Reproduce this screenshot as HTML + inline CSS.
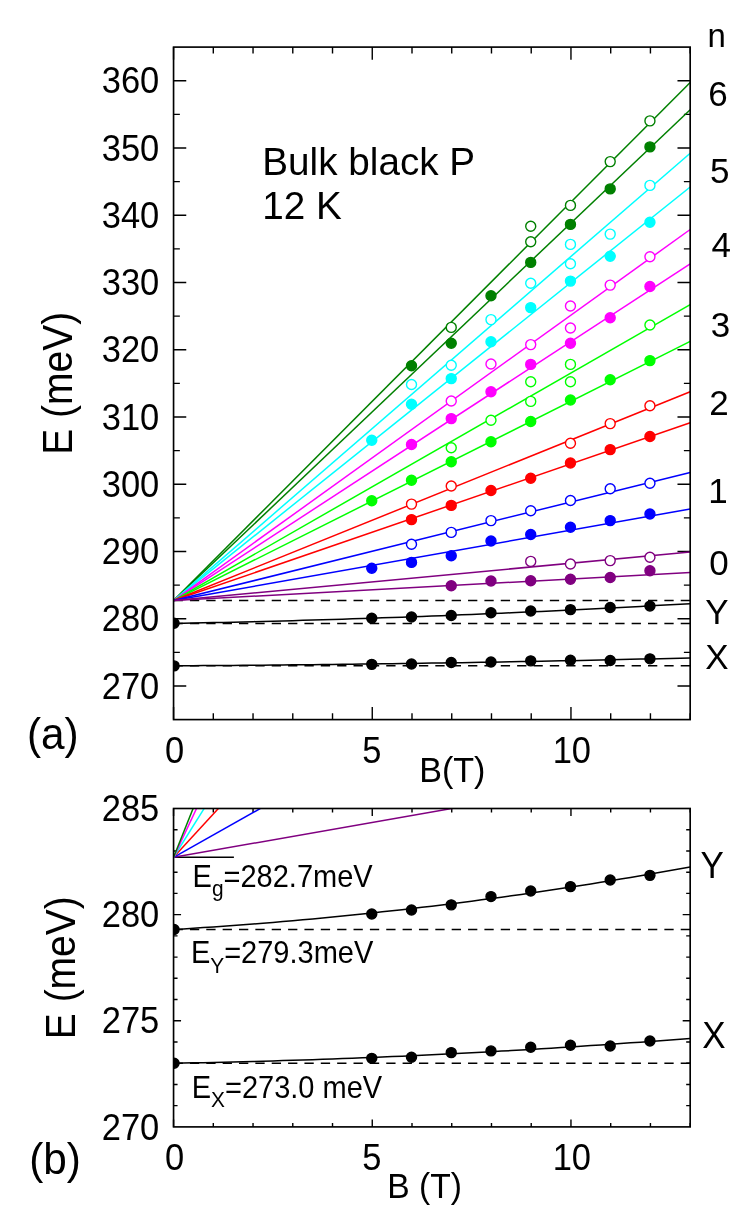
<!DOCTYPE html>
<html><head><meta charset="utf-8"><title>Bulk black P magneto-absorption</title>
<style>html,body{margin:0;padding:0;background:#fff;}svg{display:block;will-change:transform;}text{font-family:"Liberation Sans",sans-serif;fill:#000;}</style>
</head><body>
<svg width="747" height="1222" viewBox="0 0 747 1222">
<rect x="0" y="0" width="747" height="1222" fill="#ffffff"/>
<defs>
<clipPath id="ca"><rect x="173.56" y="47.1" width="516.62" height="672.5"/></clipPath>
<clipPath id="cb"><rect x="173.56" y="808.5" width="516.62" height="318.4"/></clipPath>
</defs>
<path d="M173.56 719.6 v-12.7 M173.56 47.1 v12.7 M213.3 719.6 v-6.3 M213.3 47.1 v6.3 M253.04 719.6 v-6.3 M253.04 47.1 v6.3 M292.78 719.6 v-6.3 M292.78 47.1 v6.3 M332.52 719.6 v-6.3 M332.52 47.1 v6.3 M372.26 719.6 v-12.7 M372.26 47.1 v12.7 M412 719.6 v-6.3 M412 47.1 v6.3 M451.74 719.6 v-6.3 M451.74 47.1 v6.3 M491.48 719.6 v-6.3 M491.48 47.1 v6.3 M531.22 719.6 v-6.3 M531.22 47.1 v6.3 M570.96 719.6 v-12.7 M570.96 47.1 v12.7 M610.7 719.6 v-6.3 M610.7 47.1 v6.3 M650.44 719.6 v-6.3 M650.44 47.1 v6.3 M690.18 719.6 v-6.3 M690.18 47.1 v6.3 M173.56 685.98 h12.7 M690.18 685.98 h-12.7 M173.56 652.35 h6.3 M690.18 652.35 h-6.3 M173.56 618.73 h12.7 M690.18 618.73 h-12.7 M173.56 585.1 h6.3 M690.18 585.1 h-6.3 M173.56 551.48 h12.7 M690.18 551.48 h-12.7 M173.56 517.85 h6.3 M690.18 517.85 h-6.3 M173.56 484.23 h12.7 M690.18 484.23 h-12.7 M173.56 450.6 h6.3 M690.18 450.6 h-6.3 M173.56 416.98 h12.7 M690.18 416.98 h-12.7 M173.56 383.35 h6.3 M690.18 383.35 h-6.3 M173.56 349.73 h12.7 M690.18 349.73 h-12.7 M173.56 316.1 h6.3 M690.18 316.1 h-6.3 M173.56 282.48 h12.7 M690.18 282.48 h-12.7 M173.56 248.85 h6.3 M690.18 248.85 h-6.3 M173.56 215.23 h12.7 M690.18 215.23 h-12.7 M173.56 181.6 h6.3 M690.18 181.6 h-6.3 M173.56 147.98 h12.7 M690.18 147.98 h-12.7 M173.56 114.35 h6.3 M690.18 114.35 h-6.3 M173.56 80.73 h12.7 M690.18 80.73 h-12.7" fill="none" stroke="#000" stroke-width="1.4"/>
<g clip-path="url(#ca)">
<line x1="173.56" y1="600.57" x2="690.18" y2="600.57" stroke="#000" stroke-width="1.5" stroke-dasharray="9.3 7.06"/>
<line x1="173.56" y1="623.43" x2="690.18" y2="623.43" stroke="#000" stroke-width="1.5" stroke-dasharray="9.3 7.06"/>
<line x1="173.56" y1="665.8" x2="690.18" y2="665.8" stroke="#000" stroke-width="1.5" stroke-dasharray="9.3 7.06"/>
<line x1="173.56" y1="600.57" x2="690.18" y2="82.5" stroke="#008000" stroke-width="1.5"/>
<line x1="173.56" y1="600.57" x2="690.18" y2="109.75" stroke="#008000" stroke-width="1.5"/>
<line x1="173.56" y1="600.57" x2="690.18" y2="153.2" stroke="#00ffff" stroke-width="1.5"/>
<line x1="173.56" y1="600.57" x2="690.18" y2="187" stroke="#00ffff" stroke-width="1.5"/>
<line x1="173.56" y1="600.57" x2="690.18" y2="229.5" stroke="#ff00ff" stroke-width="1.5"/>
<line x1="173.56" y1="600.57" x2="690.18" y2="263.8" stroke="#ff00ff" stroke-width="1.5"/>
<line x1="173.56" y1="600.57" x2="690.18" y2="304.7" stroke="#00ff00" stroke-width="1.5"/>
<line x1="173.56" y1="600.57" x2="690.18" y2="341.4" stroke="#00ff00" stroke-width="1.5"/>
<line x1="173.56" y1="600.57" x2="690.18" y2="391.7" stroke="#ff0000" stroke-width="1.5"/>
<line x1="173.56" y1="600.57" x2="690.18" y2="422.8" stroke="#ff0000" stroke-width="1.5"/>
<line x1="173.56" y1="600.57" x2="690.18" y2="472.4" stroke="#0000ff" stroke-width="1.5"/>
<line x1="173.56" y1="600.57" x2="690.18" y2="509" stroke="#0000ff" stroke-width="1.5"/>
<line x1="173.56" y1="600.57" x2="690.18" y2="552" stroke="#800080" stroke-width="1.5"/>
<line x1="173.56" y1="600.57" x2="690.18" y2="572.5" stroke="#800080" stroke-width="1.5"/>
<path d="M173.56 623.43 L183.5 623.24 L193.43 623.04 L203.37 622.83 L213.3 622.62 L223.24 622.4 L233.17 622.17 L243.11 621.93 L253.04 621.69 L262.98 621.44 L272.91 621.18 L282.85 620.91 L292.78 620.64 L302.72 620.36 L312.65 620.07 L322.59 619.78 L332.52 619.47 L342.46 619.16 L352.39 618.84 L362.33 618.52 L372.26 618.19 L382.2 617.85 L392.13 617.5 L402.07 617.14 L412 616.78 L421.94 616.41 L431.87 616.04 L441.81 615.65 L451.74 615.26 L461.68 614.86 L471.61 614.45 L481.55 614.04 L491.48 613.62 L501.42 613.19 L511.35 612.75 L521.29 612.31 L531.22 611.86 L541.15 611.4 L551.09 610.94 L561.03 610.46 L570.96 609.98 L580.89 609.49 L590.83 609 L600.77 608.5 L610.7 607.99 L620.63 607.47 L630.57 606.94 L640.51 606.41 L650.44 605.87 L660.38 605.33 L670.31 604.77 L680.25 604.21 L690.18 603.64" fill="none" stroke="#000" stroke-width="1.5"/>
<path d="M173.56 665.8 L183.5 665.74 L193.43 665.68 L203.37 665.62 L213.3 665.55 L223.24 665.48 L233.17 665.4 L243.11 665.32 L253.04 665.24 L262.98 665.16 L272.91 665.06 L282.85 664.97 L292.78 664.87 L302.72 664.77 L312.65 664.67 L322.59 664.56 L332.52 664.45 L342.46 664.33 L352.39 664.21 L362.33 664.09 L372.26 663.96 L382.2 663.83 L392.13 663.69 L402.07 663.55 L412 663.41 L421.94 663.27 L431.87 663.12 L441.81 662.96 L451.74 662.81 L461.68 662.65 L471.61 662.48 L481.55 662.31 L491.48 662.14 L501.42 661.97 L511.35 661.79 L521.29 661.61 L531.22 661.42 L541.15 661.23 L551.09 661.03 L561.03 660.84 L570.96 660.64 L580.89 660.43 L590.83 660.22 L600.77 660.01 L610.7 659.79 L620.63 659.57 L630.57 659.35 L640.51 659.12 L650.44 658.89 L660.38 658.66 L670.31 658.42 L680.25 658.18 L690.18 657.93" fill="none" stroke="#000" stroke-width="1.5"/>
<circle cx="371.76" cy="440.2" r="5" fill="#00ffff" stroke="#00ffff" stroke-width="1.4"/>
<circle cx="371.76" cy="500.7" r="5" fill="#00ff00" stroke="#00ff00" stroke-width="1.4"/>
<circle cx="371.76" cy="568.2" r="5" fill="#0000ff" stroke="#0000ff" stroke-width="1.4"/>
<circle cx="411.5" cy="365.7" r="5" fill="#008000" stroke="#008000" stroke-width="1.4"/>
<circle cx="411.5" cy="384.5" r="5" fill="#ffffff" stroke="#00ffff" stroke-width="1.4"/>
<circle cx="411.5" cy="404.3" r="5" fill="#00ffff" stroke="#00ffff" stroke-width="1.4"/>
<circle cx="411.5" cy="444.5" r="5" fill="#ff00ff" stroke="#ff00ff" stroke-width="1.4"/>
<circle cx="411.5" cy="480.3" r="5" fill="#00ff00" stroke="#00ff00" stroke-width="1.4"/>
<circle cx="411.5" cy="504.1" r="5" fill="#ffffff" stroke="#ff0000" stroke-width="1.4"/>
<circle cx="411.5" cy="519.6" r="5" fill="#ff0000" stroke="#ff0000" stroke-width="1.4"/>
<circle cx="411.5" cy="544.2" r="5" fill="#ffffff" stroke="#0000ff" stroke-width="1.4"/>
<circle cx="411.5" cy="562.4" r="5" fill="#0000ff" stroke="#0000ff" stroke-width="1.4"/>
<circle cx="451.24" cy="327.4" r="5" fill="#ffffff" stroke="#008000" stroke-width="1.4"/>
<circle cx="451.24" cy="343.2" r="5" fill="#008000" stroke="#008000" stroke-width="1.4"/>
<circle cx="451.24" cy="365.3" r="5" fill="#ffffff" stroke="#00ffff" stroke-width="1.4"/>
<circle cx="451.24" cy="378.6" r="5" fill="#00ffff" stroke="#00ffff" stroke-width="1.4"/>
<circle cx="451.24" cy="401" r="5" fill="#ffffff" stroke="#ff00ff" stroke-width="1.4"/>
<circle cx="451.24" cy="418.6" r="5" fill="#ff00ff" stroke="#ff00ff" stroke-width="1.4"/>
<circle cx="451.24" cy="447.7" r="5" fill="#ffffff" stroke="#00ff00" stroke-width="1.4"/>
<circle cx="451.24" cy="461.7" r="5" fill="#00ff00" stroke="#00ff00" stroke-width="1.4"/>
<circle cx="451.24" cy="486" r="5" fill="#ffffff" stroke="#ff0000" stroke-width="1.4"/>
<circle cx="451.24" cy="505.4" r="5" fill="#ff0000" stroke="#ff0000" stroke-width="1.4"/>
<circle cx="451.24" cy="532.4" r="5" fill="#ffffff" stroke="#0000ff" stroke-width="1.4"/>
<circle cx="451.24" cy="555.8" r="5" fill="#0000ff" stroke="#0000ff" stroke-width="1.4"/>
<circle cx="451.24" cy="585.7" r="5" fill="#800080" stroke="#800080" stroke-width="1.4"/>
<circle cx="490.98" cy="295.7" r="5" fill="#008000" stroke="#008000" stroke-width="1.4"/>
<circle cx="490.98" cy="319.6" r="5" fill="#ffffff" stroke="#00ffff" stroke-width="1.4"/>
<circle cx="490.98" cy="341.7" r="5" fill="#00ffff" stroke="#00ffff" stroke-width="1.4"/>
<circle cx="490.98" cy="364" r="5" fill="#ffffff" stroke="#ff00ff" stroke-width="1.4"/>
<circle cx="490.98" cy="391.8" r="5" fill="#ff00ff" stroke="#ff00ff" stroke-width="1.4"/>
<circle cx="490.98" cy="420.3" r="5" fill="#ffffff" stroke="#00ff00" stroke-width="1.4"/>
<circle cx="490.98" cy="441.7" r="5" fill="#00ff00" stroke="#00ff00" stroke-width="1.4"/>
<circle cx="490.98" cy="490.5" r="5" fill="#ff0000" stroke="#ff0000" stroke-width="1.4"/>
<circle cx="490.98" cy="520.6" r="5" fill="#ffffff" stroke="#0000ff" stroke-width="1.4"/>
<circle cx="490.98" cy="541" r="5" fill="#0000ff" stroke="#0000ff" stroke-width="1.4"/>
<circle cx="490.98" cy="581" r="5" fill="#800080" stroke="#800080" stroke-width="1.4"/>
<circle cx="530.72" cy="226.2" r="5" fill="#ffffff" stroke="#008000" stroke-width="1.4"/>
<circle cx="530.72" cy="241.8" r="5" fill="#ffffff" stroke="#008000" stroke-width="1.4"/>
<circle cx="530.72" cy="262.4" r="5" fill="#008000" stroke="#008000" stroke-width="1.4"/>
<circle cx="530.72" cy="283.3" r="5" fill="#ffffff" stroke="#00ffff" stroke-width="1.4"/>
<circle cx="530.72" cy="307.6" r="5" fill="#00ffff" stroke="#00ffff" stroke-width="1.4"/>
<circle cx="530.72" cy="344.6" r="5" fill="#ffffff" stroke="#ff00ff" stroke-width="1.4"/>
<circle cx="530.72" cy="364.4" r="5" fill="#ff00ff" stroke="#ff00ff" stroke-width="1.4"/>
<circle cx="530.72" cy="381.7" r="5" fill="#ffffff" stroke="#00ff00" stroke-width="1.4"/>
<circle cx="530.72" cy="401.4" r="5" fill="#ffffff" stroke="#00ff00" stroke-width="1.4"/>
<circle cx="530.72" cy="421.5" r="5" fill="#00ff00" stroke="#00ff00" stroke-width="1.4"/>
<circle cx="530.72" cy="478.3" r="5" fill="#ff0000" stroke="#ff0000" stroke-width="1.4"/>
<circle cx="530.72" cy="510.7" r="5" fill="#ffffff" stroke="#0000ff" stroke-width="1.4"/>
<circle cx="530.72" cy="534.5" r="5" fill="#0000ff" stroke="#0000ff" stroke-width="1.4"/>
<circle cx="530.72" cy="561.4" r="5" fill="#ffffff" stroke="#800080" stroke-width="1.4"/>
<circle cx="530.72" cy="580.8" r="5" fill="#800080" stroke="#800080" stroke-width="1.4"/>
<circle cx="570.46" cy="205.4" r="5" fill="#ffffff" stroke="#008000" stroke-width="1.4"/>
<circle cx="570.46" cy="224.4" r="5" fill="#008000" stroke="#008000" stroke-width="1.4"/>
<circle cx="570.46" cy="244.4" r="5" fill="#ffffff" stroke="#00ffff" stroke-width="1.4"/>
<circle cx="570.46" cy="263.7" r="5" fill="#ffffff" stroke="#00ffff" stroke-width="1.4"/>
<circle cx="570.46" cy="281.1" r="5" fill="#00ffff" stroke="#00ffff" stroke-width="1.4"/>
<circle cx="570.46" cy="306" r="5" fill="#ffffff" stroke="#ff00ff" stroke-width="1.4"/>
<circle cx="570.46" cy="328" r="5" fill="#ffffff" stroke="#ff00ff" stroke-width="1.4"/>
<circle cx="570.46" cy="343.2" r="5" fill="#ff00ff" stroke="#ff00ff" stroke-width="1.4"/>
<circle cx="570.46" cy="364.4" r="5" fill="#ffffff" stroke="#00ff00" stroke-width="1.4"/>
<circle cx="570.46" cy="381.8" r="5" fill="#ffffff" stroke="#00ff00" stroke-width="1.4"/>
<circle cx="570.46" cy="400" r="5" fill="#00ff00" stroke="#00ff00" stroke-width="1.4"/>
<circle cx="570.46" cy="443.2" r="5" fill="#ffffff" stroke="#ff0000" stroke-width="1.4"/>
<circle cx="570.46" cy="463" r="5" fill="#ff0000" stroke="#ff0000" stroke-width="1.4"/>
<circle cx="570.46" cy="500.5" r="5" fill="#ffffff" stroke="#0000ff" stroke-width="1.4"/>
<circle cx="570.46" cy="527.3" r="5" fill="#0000ff" stroke="#0000ff" stroke-width="1.4"/>
<circle cx="570.46" cy="564" r="5" fill="#ffffff" stroke="#800080" stroke-width="1.4"/>
<circle cx="570.46" cy="579.3" r="5" fill="#800080" stroke="#800080" stroke-width="1.4"/>
<circle cx="610.2" cy="161.6" r="5" fill="#ffffff" stroke="#008000" stroke-width="1.4"/>
<circle cx="610.2" cy="188.9" r="5" fill="#008000" stroke="#008000" stroke-width="1.4"/>
<circle cx="610.2" cy="234.1" r="5" fill="#ffffff" stroke="#00ffff" stroke-width="1.4"/>
<circle cx="610.2" cy="256.2" r="5" fill="#00ffff" stroke="#00ffff" stroke-width="1.4"/>
<circle cx="610.2" cy="285.1" r="5" fill="#ffffff" stroke="#ff00ff" stroke-width="1.4"/>
<circle cx="610.2" cy="317.8" r="5" fill="#ff00ff" stroke="#ff00ff" stroke-width="1.4"/>
<circle cx="610.2" cy="379.8" r="5" fill="#00ff00" stroke="#00ff00" stroke-width="1.4"/>
<circle cx="610.2" cy="423.6" r="5" fill="#ffffff" stroke="#ff0000" stroke-width="1.4"/>
<circle cx="610.2" cy="449.6" r="5" fill="#ff0000" stroke="#ff0000" stroke-width="1.4"/>
<circle cx="610.2" cy="488.7" r="5" fill="#ffffff" stroke="#0000ff" stroke-width="1.4"/>
<circle cx="610.2" cy="520.6" r="5" fill="#0000ff" stroke="#0000ff" stroke-width="1.4"/>
<circle cx="610.2" cy="560.6" r="5" fill="#ffffff" stroke="#800080" stroke-width="1.4"/>
<circle cx="610.2" cy="577.5" r="5" fill="#800080" stroke="#800080" stroke-width="1.4"/>
<circle cx="649.94" cy="120.9" r="5" fill="#ffffff" stroke="#008000" stroke-width="1.4"/>
<circle cx="649.94" cy="146.9" r="5" fill="#008000" stroke="#008000" stroke-width="1.4"/>
<circle cx="649.94" cy="185.4" r="5" fill="#ffffff" stroke="#00ffff" stroke-width="1.4"/>
<circle cx="649.94" cy="222.2" r="5" fill="#00ffff" stroke="#00ffff" stroke-width="1.4"/>
<circle cx="649.94" cy="256.8" r="5" fill="#ffffff" stroke="#ff00ff" stroke-width="1.4"/>
<circle cx="649.94" cy="286.5" r="5" fill="#ff00ff" stroke="#ff00ff" stroke-width="1.4"/>
<circle cx="649.94" cy="325" r="5" fill="#ffffff" stroke="#00ff00" stroke-width="1.4"/>
<circle cx="649.94" cy="360.6" r="5" fill="#00ff00" stroke="#00ff00" stroke-width="1.4"/>
<circle cx="649.94" cy="405.7" r="5" fill="#ffffff" stroke="#ff0000" stroke-width="1.4"/>
<circle cx="649.94" cy="436.5" r="5" fill="#ff0000" stroke="#ff0000" stroke-width="1.4"/>
<circle cx="649.94" cy="483.3" r="5" fill="#ffffff" stroke="#0000ff" stroke-width="1.4"/>
<circle cx="649.94" cy="514" r="5" fill="#0000ff" stroke="#0000ff" stroke-width="1.4"/>
<circle cx="649.94" cy="557.2" r="5" fill="#ffffff" stroke="#800080" stroke-width="1.4"/>
<circle cx="649.94" cy="570.8" r="5" fill="#800080" stroke="#800080" stroke-width="1.4"/>
<circle cx="174.06" cy="623.23" r="5" fill="#000000" stroke="#000000" stroke-width="1.4"/>
<circle cx="371.76" cy="618.32" r="5" fill="#000000" stroke="#000000" stroke-width="1.4"/>
<circle cx="411.5" cy="617.05" r="5" fill="#000000" stroke="#000000" stroke-width="1.4"/>
<circle cx="451.24" cy="615.43" r="5" fill="#000000" stroke="#000000" stroke-width="1.4"/>
<circle cx="490.98" cy="612.81" r="5" fill="#000000" stroke="#000000" stroke-width="1.4"/>
<circle cx="530.72" cy="611.06" r="5" fill="#000000" stroke="#000000" stroke-width="1.4"/>
<circle cx="570.46" cy="609.65" r="5" fill="#000000" stroke="#000000" stroke-width="1.4"/>
<circle cx="610.2" cy="607.56" r="5" fill="#000000" stroke="#000000" stroke-width="1.4"/>
<circle cx="649.94" cy="606.08" r="5" fill="#000000" stroke="#000000" stroke-width="1.4"/>
<circle cx="174.06" cy="665.9" r="5" fill="#000000" stroke="#000000" stroke-width="1.4"/>
<circle cx="371.76" cy="664.35" r="5" fill="#000000" stroke="#000000" stroke-width="1.4"/>
<circle cx="411.5" cy="664.02" r="5" fill="#000000" stroke="#000000" stroke-width="1.4"/>
<circle cx="451.24" cy="662.54" r="5" fill="#000000" stroke="#000000" stroke-width="1.4"/>
<circle cx="490.98" cy="662" r="5" fill="#000000" stroke="#000000" stroke-width="1.4"/>
<circle cx="530.72" cy="660.86" r="5" fill="#000000" stroke="#000000" stroke-width="1.4"/>
<circle cx="570.46" cy="660.18" r="5" fill="#000000" stroke="#000000" stroke-width="1.4"/>
<circle cx="610.2" cy="660.45" r="5" fill="#000000" stroke="#000000" stroke-width="1.4"/>
<circle cx="649.94" cy="658.84" r="5" fill="#000000" stroke="#000000" stroke-width="1.4"/>
</g>
<rect x="173.56" y="47.1" width="516.62" height="672.5" fill="none" stroke="#000" stroke-width="1.65"/>
<text transform="translate(159.3,698.58) scale(1,1.05)" font-size="34.5" text-anchor="end">270</text>
<text transform="translate(159.3,631.33) scale(1,1.05)" font-size="34.5" text-anchor="end">280</text>
<text transform="translate(159.3,564.08) scale(1,1.05)" font-size="34.5" text-anchor="end">290</text>
<text transform="translate(159.3,496.83) scale(1,1.05)" font-size="34.5" text-anchor="end">300</text>
<text transform="translate(159.3,429.58) scale(1,1.05)" font-size="34.5" text-anchor="end">310</text>
<text transform="translate(159.3,362.33) scale(1,1.05)" font-size="34.5" text-anchor="end">320</text>
<text transform="translate(159.3,295.08) scale(1,1.05)" font-size="34.5" text-anchor="end">330</text>
<text transform="translate(159.3,227.83) scale(1,1.05)" font-size="34.5" text-anchor="end">340</text>
<text transform="translate(159.3,160.58) scale(1,1.05)" font-size="34.5" text-anchor="end">350</text>
<text transform="translate(159.3,93.33) scale(1,1.05)" font-size="34.5" text-anchor="end">360</text>
<text transform="translate(174.56,763.1) scale(1,1.055)" font-size="34.5" text-anchor="middle">0</text>
<text transform="translate(371.76,763.1) scale(1,1.055)" font-size="34.5" text-anchor="middle">5</text>
<text transform="translate(571.86,763.1) scale(1,1.055)" font-size="34.5" text-anchor="middle">10</text>
<text transform="translate(419.2,781.9) scale(1,1.03)" font-size="34.1">B(T)</text>
<text transform="translate(72,454.8) rotate(-90) scale(1,1.067)" font-size="39">E (meV)</text>
<text transform="translate(27,749) scale(1,1.04)" font-size="42.3">(a)</text>
<text transform="translate(262.3,175.2) scale(1,1.005)" font-size="38.7">Bulk black P</text>
<text transform="translate(262.3,219.3) scale(1,1.005)" font-size="38.7">12 K</text>
<text transform="translate(707.5,46.7) scale(1,1.035)" font-size="33">n</text>
<text transform="translate(708.2,106) scale(1,1.025)" font-size="35">6</text>
<text transform="translate(710,182.7) scale(1,1.025)" font-size="35">5</text>
<text transform="translate(711.4,256.7) scale(1,1.025)" font-size="35">4</text>
<text transform="translate(710.7,337) scale(1,1.025)" font-size="35">3</text>
<text transform="translate(709.2,415.3) scale(1,1.025)" font-size="35">2</text>
<text transform="translate(708.3,502.5) scale(1,1.025)" font-size="35">1</text>
<text transform="translate(709.3,574.8) scale(1,1.025)" font-size="35">0</text>
<text transform="translate(705.2,623.6) scale(1,1.025)" font-size="35">Y</text>
<text transform="translate(705.2,669.3) scale(1,1.025)" font-size="35">X</text>
<path d="M173.56 1126.9 v-7.5 M173.56 808.5 v7.5 M213.3 1126.9 v-4 M213.3 808.5 v4 M253.04 1126.9 v-4 M253.04 808.5 v4 M292.78 1126.9 v-4 M292.78 808.5 v4 M332.52 1126.9 v-4 M332.52 808.5 v4 M372.26 1126.9 v-7.5 M372.26 808.5 v7.5 M412 1126.9 v-4 M412 808.5 v4 M451.74 1126.9 v-4 M451.74 808.5 v4 M491.48 1126.9 v-4 M491.48 808.5 v4 M531.22 1126.9 v-4 M531.22 808.5 v4 M570.96 1126.9 v-7.5 M570.96 808.5 v7.5 M610.7 1126.9 v-4 M610.7 808.5 v4 M650.44 1126.9 v-4 M650.44 808.5 v4 M690.18 1126.9 v-4 M690.18 808.5 v4 M173.56 1105.67 h4 M690.18 1105.67 h-4 M173.56 1084.45 h4 M690.18 1084.45 h-4 M173.56 1063.22 h4 M690.18 1063.22 h-4 M173.56 1041.99 h4 M690.18 1041.99 h-4 M173.56 1020.77 h7.5 M690.18 1020.77 h-7.5 M173.56 999.54 h4 M690.18 999.54 h-4 M173.56 978.31 h4 M690.18 978.31 h-4 M173.56 957.09 h4 M690.18 957.09 h-4 M173.56 935.86 h4 M690.18 935.86 h-4 M173.56 914.63 h7.5 M690.18 914.63 h-7.5 M173.56 893.41 h4 M690.18 893.41 h-4 M173.56 872.18 h4 M690.18 872.18 h-4 M173.56 850.95 h4 M690.18 850.95 h-4 M173.56 829.73 h4 M690.18 829.73 h-4" fill="none" stroke="#000" stroke-width="1.4"/>
<g clip-path="url(#cb)">
<line x1="173.56" y1="929.49" x2="690.18" y2="929.49" stroke="#000" stroke-width="1.5" stroke-dasharray="9.3 7.06"/>
<line x1="173.56" y1="1063.22" x2="690.18" y2="1063.22" stroke="#000" stroke-width="1.5" stroke-dasharray="9.3 7.06"/>
<line x1="173.56" y1="857.32" x2="233.9" y2="857.32" stroke="#000" stroke-width="1.5"/>
<line x1="173.56" y1="857.32" x2="536.37" y2="793.64" stroke="#800080" stroke-width="1.5"/>
<line x1="173.56" y1="857.32" x2="286.67" y2="793.64" stroke="#0000ff" stroke-width="1.5"/>
<line x1="173.56" y1="857.32" x2="232" y2="793.64" stroke="#ff0000" stroke-width="1.5"/>
<line x1="173.56" y1="857.32" x2="213.43" y2="793.64" stroke="#00ffff" stroke-width="1.5"/>
<line x1="173.56" y1="857.32" x2="203.51" y2="793.64" stroke="#ff00ff" stroke-width="1.5"/>
<line x1="173.56" y1="857.32" x2="199.03" y2="793.64" stroke="#008000" stroke-width="1.5"/>
<path d="M173.56 929.49 L183.5 928.89 L193.43 928.26 L203.37 927.6 L213.3 926.93 L223.24 926.23 L233.17 925.51 L243.11 924.76 L253.04 923.99 L262.98 923.2 L272.91 922.38 L282.85 921.54 L292.78 920.68 L302.72 919.79 L312.65 918.88 L322.59 917.95 L332.52 916.99 L342.46 916.01 L352.39 915.01 L362.33 913.98 L372.26 912.94 L382.2 911.86 L392.13 910.77 L402.07 909.65 L412 908.5 L421.94 907.34 L431.87 906.15 L441.81 904.93 L451.74 903.7 L461.68 902.44 L471.61 901.15 L481.55 899.85 L491.48 898.52 L501.42 897.16 L511.35 895.79 L521.29 894.39 L531.22 892.97 L541.15 891.52 L551.09 890.05 L561.03 888.56 L570.96 887.04 L580.89 885.5 L590.83 883.94 L600.77 882.35 L610.7 880.74 L620.63 879.11 L630.57 877.45 L640.51 875.77 L650.44 874.06 L660.38 872.34 L670.31 870.59 L680.25 868.81 L690.18 867.02" fill="none" stroke="#000" stroke-width="1.5"/>
<path d="M173.56 1063.22 L183.5 1063.04 L193.43 1062.85 L203.37 1062.65 L213.3 1062.43 L223.24 1062.21 L233.17 1061.97 L243.11 1061.72 L253.04 1061.46 L262.98 1061.18 L272.91 1060.9 L282.85 1060.6 L292.78 1060.3 L302.72 1059.98 L312.65 1059.64 L322.59 1059.3 L332.52 1058.95 L342.46 1058.58 L352.39 1058.2 L362.33 1057.81 L372.26 1057.41 L382.2 1057 L392.13 1056.57 L402.07 1056.13 L412 1055.69 L421.94 1055.23 L431.87 1054.75 L441.81 1054.27 L451.74 1053.77 L461.68 1053.27 L471.61 1052.75 L481.55 1052.22 L491.48 1051.68 L501.42 1051.12 L511.35 1050.56 L521.29 1049.98 L531.22 1049.39 L541.15 1048.79 L551.09 1048.18 L561.03 1047.55 L570.96 1046.92 L580.89 1046.27 L590.83 1045.61 L600.77 1044.94 L610.7 1044.26 L620.63 1043.56 L630.57 1042.86 L640.51 1042.14 L650.44 1041.41 L660.38 1040.67 L670.31 1039.92 L680.25 1039.15 L690.18 1038.38" fill="none" stroke="#000" stroke-width="1.5"/>
<circle cx="174.06" cy="929.49" r="5" fill="#000000" stroke="#000000" stroke-width="1.4"/>
<circle cx="371.76" cy="914" r="5" fill="#000000" stroke="#000000" stroke-width="1.4"/>
<circle cx="411.5" cy="909.96" r="5" fill="#000000" stroke="#000000" stroke-width="1.4"/>
<circle cx="451.24" cy="904.87" r="5" fill="#000000" stroke="#000000" stroke-width="1.4"/>
<circle cx="490.98" cy="896.59" r="5" fill="#000000" stroke="#000000" stroke-width="1.4"/>
<circle cx="530.72" cy="891.07" r="5" fill="#000000" stroke="#000000" stroke-width="1.4"/>
<circle cx="570.46" cy="886.61" r="5" fill="#000000" stroke="#000000" stroke-width="1.4"/>
<circle cx="610.2" cy="880.03" r="5" fill="#000000" stroke="#000000" stroke-width="1.4"/>
<circle cx="649.94" cy="875.36" r="5" fill="#000000" stroke="#000000" stroke-width="1.4"/>
<circle cx="174.06" cy="1063.22" r="5" fill="#000000" stroke="#000000" stroke-width="1.4"/>
<circle cx="371.76" cy="1058.34" r="5" fill="#000000" stroke="#000000" stroke-width="1.4"/>
<circle cx="411.5" cy="1057.28" r="5" fill="#000000" stroke="#000000" stroke-width="1.4"/>
<circle cx="451.24" cy="1052.61" r="5" fill="#000000" stroke="#000000" stroke-width="1.4"/>
<circle cx="490.98" cy="1050.91" r="5" fill="#000000" stroke="#000000" stroke-width="1.4"/>
<circle cx="530.72" cy="1047.3" r="5" fill="#000000" stroke="#000000" stroke-width="1.4"/>
<circle cx="570.46" cy="1045.18" r="5" fill="#000000" stroke="#000000" stroke-width="1.4"/>
<circle cx="610.2" cy="1046.03" r="5" fill="#000000" stroke="#000000" stroke-width="1.4"/>
<circle cx="649.94" cy="1040.93" r="5" fill="#000000" stroke="#000000" stroke-width="1.4"/>
</g>
<rect x="173.56" y="808.5" width="516.62" height="318.4" fill="none" stroke="#000" stroke-width="1.65"/>
<text transform="translate(159.3,1139.5) scale(1,1.05)" font-size="34.5" text-anchor="end">270</text>
<text transform="translate(159.3,1033.37) scale(1,1.05)" font-size="34.5" text-anchor="end">275</text>
<text transform="translate(159.3,927.23) scale(1,1.05)" font-size="34.5" text-anchor="end">280</text>
<text transform="translate(159.3,821.1) scale(1,1.05)" font-size="34.5" text-anchor="end">285</text>
<text transform="translate(174.56,1170.3) scale(1,1.055)" font-size="34.5" text-anchor="middle">0</text>
<text transform="translate(371.76,1170.3) scale(1,1.055)" font-size="34.5" text-anchor="middle">5</text>
<text transform="translate(571.86,1170.3) scale(1,1.055)" font-size="34.5" text-anchor="middle">10</text>
<text transform="translate(387.3,1197.8) scale(1,1.07)" font-size="33.6">B (T)</text>
<text transform="translate(74.8,1039.2) rotate(-90) scale(1,1.067)" font-size="39">E (meV)</text>
<text transform="translate(29.2,1173.5) scale(1,1.04)" font-size="42.3">(b)</text>
<text transform="translate(700.4,878.1) scale(1,1.03)" font-size="35">Y</text>
<text transform="translate(702.3,1048.1) scale(1,1.03)" font-size="35">X</text>
<text transform="translate(192.6,886.9) scale(1,1.095)" font-size="29">E<tspan font-size="20.9" dy="8">g</tspan><tspan dy="-8">=282.7meV</tspan></text>
<text transform="translate(190.9,962.8) scale(1,1.095)" font-size="29">E<tspan font-size="20.9" dy="9.2">Y</tspan><tspan dy="-9.2">=279.3meV</tspan></text>
<text transform="translate(191.7,1097.5) scale(1,1.095)" font-size="29">E<tspan font-size="20.9" dy="9">X</tspan><tspan dy="-9">=273.0 meV</tspan></text>
</svg>
</body></html>
